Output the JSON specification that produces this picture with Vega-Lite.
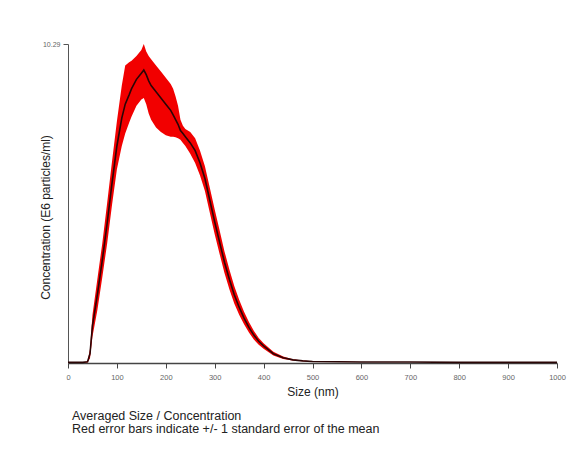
{
  "$schema": "https://vega.github.io/schema/vega-lite/v6.json",
  "width": 489,
  "height": 319,
  "autosize": "none",
  "padding": {"left": 68, "top": 44, "right": 18, "bottom": 91},
  "background": "white",
  "config": {"view": {"stroke": null}, "font": "Liberation Sans"},
  "title": {
    "text": ["Averaged Size / Concentration", "Red error bars indicate +/- 1 standard error of the mean"],
    "orient": "bottom",
    "anchor": "start",
    "frame": "group",
    "offset": 12,
    "dx": 4,
    "fontSize": 12.5,
    "fontWeight": "normal",
    "lineHeight": 13.5,
    "color": "#222"
  },
  "data": {
    "values": [
      {"size": 0, "mean": 0.02, "lo": 0.02, "hi": 0.02},
      {"size": 10, "mean": 0.02, "lo": 0.02, "hi": 0.02},
      {"size": 20, "mean": 0.02, "lo": 0.02, "hi": 0.02},
      {"size": 30, "mean": 0.02, "lo": 0.02, "hi": 0.02},
      {"size": 40, "mean": 0.04, "lo": 0.02, "hi": 0.06},
      {"size": 45, "mean": 0.3, "lo": 0.15, "hi": 0.45},
      {"size": 50, "mean": 1.2, "lo": 0.85, "hi": 1.55},
      {"size": 60, "mean": 2.2, "lo": 1.7, "hi": 2.7},
      {"size": 70, "mean": 3.3, "lo": 2.75, "hi": 3.85},
      {"size": 80, "mean": 4.5, "lo": 3.85, "hi": 5.15},
      {"size": 90, "mean": 5.8, "lo": 5.1, "hi": 6.5},
      {"size": 100, "mean": 7.0, "lo": 6.25, "hi": 7.8},
      {"size": 110, "mean": 7.9, "lo": 7.0, "hi": 8.95},
      {"size": 117, "mean": 8.35, "lo": 7.4, "hi": 9.6},
      {"size": 125, "mean": 8.65, "lo": 7.75, "hi": 9.7},
      {"size": 130, "mean": 8.85, "lo": 7.95, "hi": 9.75},
      {"size": 140, "mean": 9.15, "lo": 8.3, "hi": 9.9},
      {"size": 150, "mean": 9.35, "lo": 8.5, "hi": 10.1},
      {"size": 155, "mean": 9.45, "lo": 8.55, "hi": 10.29},
      {"size": 160, "mean": 9.3, "lo": 8.35, "hi": 10.05},
      {"size": 165, "mean": 9.1, "lo": 8.05, "hi": 9.9},
      {"size": 170, "mean": 8.95, "lo": 7.85, "hi": 9.8},
      {"size": 180, "mean": 8.75, "lo": 7.6, "hi": 9.6},
      {"size": 190, "mean": 8.55, "lo": 7.45, "hi": 9.4},
      {"size": 200, "mean": 8.35, "lo": 7.35, "hi": 9.2},
      {"size": 210, "mean": 8.15, "lo": 7.3, "hi": 9.0},
      {"size": 215, "mean": 8.0, "lo": 7.3, "hi": 8.85},
      {"size": 220, "mean": 7.85, "lo": 7.28, "hi": 8.6},
      {"size": 225, "mean": 7.7, "lo": 7.25, "hi": 8.3},
      {"size": 230, "mean": 7.5, "lo": 7.2, "hi": 7.85},
      {"size": 235, "mean": 7.4, "lo": 7.1, "hi": 7.65},
      {"size": 240, "mean": 7.3, "lo": 7.0, "hi": 7.55},
      {"size": 250, "mean": 7.1, "lo": 6.75, "hi": 7.45},
      {"size": 260, "mean": 6.85, "lo": 6.45, "hi": 7.25},
      {"size": 270, "mean": 6.45, "lo": 6.05, "hi": 6.85},
      {"size": 280, "mean": 5.95, "lo": 5.55, "hi": 6.35},
      {"size": 290, "mean": 5.25, "lo": 4.85, "hi": 5.65},
      {"size": 300, "mean": 4.55, "lo": 4.15, "hi": 4.95},
      {"size": 310, "mean": 3.9, "lo": 3.52, "hi": 4.28},
      {"size": 320, "mean": 3.25, "lo": 2.9, "hi": 3.6},
      {"size": 330, "mean": 2.7, "lo": 2.38, "hi": 3.02},
      {"size": 340, "mean": 2.2, "lo": 1.92, "hi": 2.48},
      {"size": 350, "mean": 1.8, "lo": 1.56, "hi": 2.04},
      {"size": 360, "mean": 1.45, "lo": 1.25, "hi": 1.65},
      {"size": 370, "mean": 1.15, "lo": 0.98, "hi": 1.32},
      {"size": 380, "mean": 0.9, "lo": 0.76, "hi": 1.04},
      {"size": 390, "mean": 0.7, "lo": 0.59, "hi": 0.81},
      {"size": 400, "mean": 0.55, "lo": 0.46, "hi": 0.64},
      {"size": 420, "mean": 0.3, "lo": 0.24, "hi": 0.36},
      {"size": 440, "mean": 0.17, "lo": 0.13, "hi": 0.21},
      {"size": 460, "mean": 0.1, "lo": 0.08, "hi": 0.12},
      {"size": 480, "mean": 0.07, "lo": 0.06, "hi": 0.08},
      {"size": 500, "mean": 0.05, "lo": 0.04, "hi": 0.06},
      {"size": 550, "mean": 0.04, "lo": 0.03, "hi": 0.05},
      {"size": 600, "mean": 0.03, "lo": 0.03, "hi": 0.03},
      {"size": 700, "mean": 0.03, "lo": 0.03, "hi": 0.03},
      {"size": 800, "mean": 0.02, "lo": 0.02, "hi": 0.02},
      {"size": 900, "mean": 0.02, "lo": 0.02, "hi": 0.02},
      {"size": 1000, "mean": 0.02, "lo": 0.02, "hi": 0.02}
    ]
  },
  "encoding": {
    "x": {
      "field": "size",
      "type": "quantitative",
      "scale": {"domain": [0, 1000], "nice": false, "zero": true},
      "axis": {
        "title": "Size (nm)",
        "values": [0, 100, 200, 300, 400, 500, 600, 700, 800, 900, 1000],
        "format": "d",
        "grid": false,
        "domainColor": "#444",
        "domainWidth": 1.5,
        "tickColor": "#444",
        "tickSize": 5,
        "tickWidth": 1,
        "labelFontSize": 7.5,
        "labelColor": "#666666",
        "labelPadding": 5,
        "labelFlush": false,
        "titleFontSize": 12,
        "titleFontWeight": "normal",
        "titleColor": "#222",
        "titlePadding": 6
      }
    }
  },
  "layer": [
    {
      "mark": {"type": "area", "color": "#f20000", "opacity": 1},
      "encoding": {
        "y": {
          "field": "lo",
          "type": "quantitative",
          "scale": {"domain": [0, 10.29], "nice": false},
          "axis": {
            "title": "Concentration (E6 particles/ml)",
            "values": [10.29],
            "format": ".2f",
            "grid": false,
            "domainColor": "#555",
            "domainWidth": 1,
            "tickColor": "#555",
            "tickSize": 5,
            "labelFontSize": 7,
            "labelColor": "#666666",
            "labelPadding": 3,
            "titleFontSize": 12,
            "titleFontWeight": "normal",
            "titleColor": "#222",
            "titleAngle": -90,
            "titleX": -23,
            "titleY": 173,
            "titleAlign": "center",
            "titleBaseline": "middle"
          }
        },
        "y2": {"field": "hi"}
      }
    },
    {
      "mark": {"type": "line", "color": "#2a0505", "strokeWidth": 1.6},
      "encoding": {
        "y": {"field": "mean", "type": "quantitative"}
      }
    }
  ]
}
